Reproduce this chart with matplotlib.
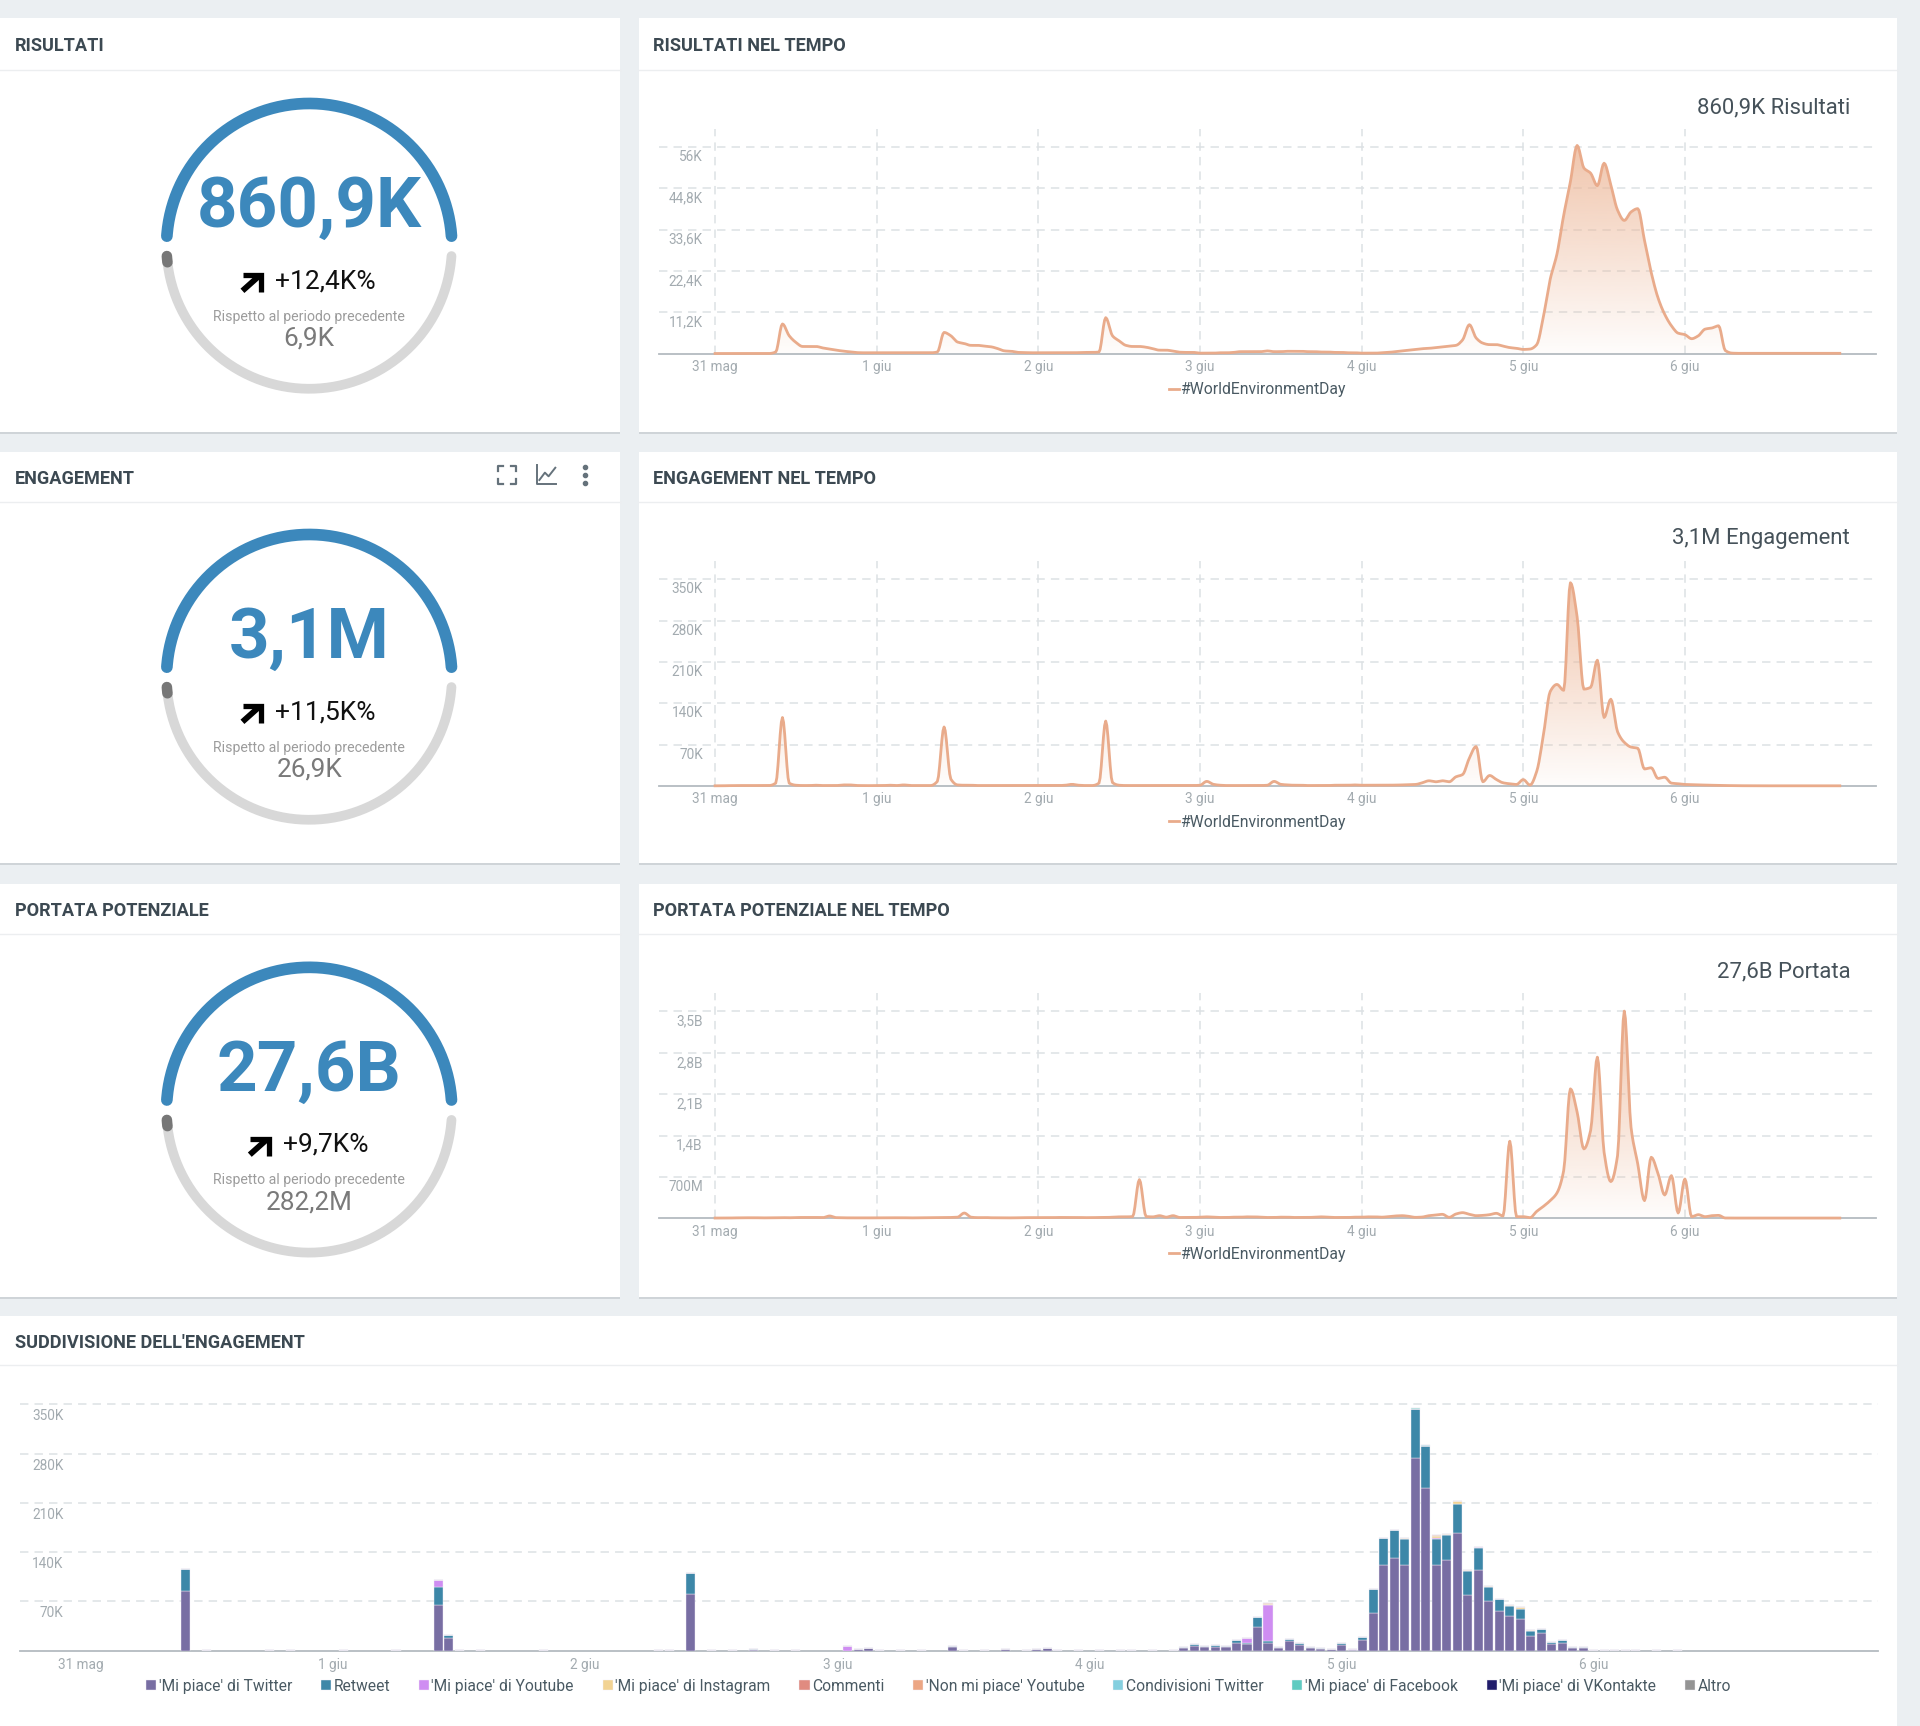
import numpy as np
import matplotlib
matplotlib.use("Agg")
import matplotlib.pyplot as plt
from matplotlib.patches import Rectangle, Polygon
from matplotlib.transforms import ScaledTranslation

plt.rcParams['font.family'] = ['Roboto', 'DejaVu Sans']

# ---------- data ----------
results_k = [
 0.1,0.1,0.1,0.1,0.1,0.1,0.1,0.1,0.1,0.5,8.1,4.9,3.1,2.0,2.0,2.0,1.6,1.3,1.0,0.75,0.55,0.35,0.3,0.3,
 0.3,0.3,0.3,0.3,0.3,0.3,0.3,0.3,0.3,0.5,5.8,4.9,3.2,2.8,2.3,2.3,2.1,1.9,1.4,0.8,0.7,0.4,0.35,0.3,
 0.3,0.3,0.3,0.3,0.3,0.3,0.35,0.4,0.4,0.5,9.8,4.9,3.5,2.3,2.0,2.0,1.8,1.4,1.0,1.0,0.75,0.45,0.4,0.4,
 0.2,0.2,0.2,0.3,0.3,0.4,0.6,0.6,0.6,0.6,0.8,0.6,0.6,0.7,0.7,0.7,0.6,0.6,0.5,0.5,0.4,0.4,0.3,0.3,
 0.2,0.2,0.2,0.3,0.4,0.6,0.8,1.0,1.2,1.4,1.5,1.7,1.9,2.1,2.3,3.8,7.9,4.3,2.9,2.5,2.5,2.1,1.7,1.5,
 1.2,1.3,2.5,10.2,20.2,27.0,37.5,46.6,56.4,50.3,48.9,45.5,51.6,45.7,38.9,36.1,38.4,39.3,30.7,22.0,15.2,10.7,7.6,5.6,
 5.2,4.1,4.9,6.7,7.0,7.6,0.9,0.2,0.15,0.15,0.15,0.15,0.15,0.15,0.15,0.15,0.15,0.15,0.15,0.15,0.15,0.15,0.15,0.15]

engagement_k = [
 0.5,0.5,0.8,0.8,1,1,1,1,1,5,116,5,1.5,1,1,1.5,1,1,1,2,2,1,1,0.8,
 1,1,1.5,1,2,1,1,1,1,8,100,12,2,1.5,1.5,1,1,1,1,1,1,1,1,1,
 1,1,1,1,1.5,3,1.5,1,1,5,110,6,1.5,1,1,1,1,1,1,1,1,1,1,1,
 1.5,8,3,1.5,1,1,1,1,1,1,1.5,8,3,2,1.5,1.5,1,1,1,1,1.5,1.5,1.5,2,
 1.5,1.5,1.5,1.5,1.5,1.8,2,2.4,2.8,5.6,9,7.3,9,7.3,15.7,19.6,47.6,67,7.3,18,11.2,5.6,3.9,2.8,
 11,1.7,25,87,160,172,162,344,286,164,167,213,116,147,92,74,66,64,29,31,13,15,5,4,
 2.8,2.5,2,1.8,1.5,1.2,1,0.8,0.7,0.6,0.6,0.5,0.5,0.5,0.5,0.5,0.5,0.5,0.5,0.5,0.5,0.5,0.5,0.5]

reach_m = [
 5,5,5,8,8,10,10,8,8,10,12,10,14,15,16,15,12,40,12,10,8,8,10,8,
 8,8,8,10,10,8,8,10,10,10,12,15,20,90,20,12,15,10,10,10,8,10,12,12,
 12,12,12,15,15,15,15,12,12,15,15,20,25,25,30,655,30,25,45,20,45,15,15,15,
 20,25,20,15,15,20,20,25,25,20,15,15,20,20,15,15,15,20,25,20,15,15,15,20,
 20,25,25,20,30,40,45,34,17,22,45,56,68,17,73,96,68,45,50,62,85,40,1304,28,
 28,11,118,203,300,429,807,2190,1795,1174,1485,2726,1118,621,1061,3505,1541,920,299,1033,762,395,723,90,
 666,28,62,28,45,50,6,5,5,5,5,5,5,5,5,5,5,5,5,5,5,5,5,5]

days_lines = ['31 mag', '1 giu', '2 giu', '3 giu', '4 giu', '5 giu', '6 giu']
ticks_results = [('11,2K',11.2),('22,4K',22.4),('33,6K',33.6),('44,8K',44.8),('56K',56)]
ticks_engage = [('70K',70),('140K',140),('210K',210),('280K',280),('350K',350)]
ticks_reach = [('700M',700),('1,4B',1400),('2,1B',2100),('2,8B',2800),('3,5B',3500)]

bar_hours = [10,12,18,20,25,30,34,35,36,38,44,55,56,58,60,62,64,66,68,73,74,75,76,78,80,83,84,86,88,90,91,92,93,95,97,99,100,102,104,
             105,106,107,108,109,110,111,112,113,114,115,116,117,118,119,120,121,122,123,124,125,126,127,128,129,130,131,132,
             133,134,135,136,137,138,139,140,141,142,143,144,145,146,147,148,150,152]
tw_likes = [84.5,.5,1,.4,.3,.5,65,18,1,.8,.5,.4,1,80.6,1,1,1.2,1,.5,0,2,3,.5,.5,.5,5,1,.5,2.2,.8,1.7,3,1.2,.4,.5,.7,.8,.8,1,
            3.5,6.5,4.5,5.5,5,11,9,34,11,4,14,8,4,2.5,2,8,1,14.8,53,122,132,122,274,231,122,129.5,167.5,78.5,
            114,70,56.6,48.5,44.7,21,24.7,9.5,11.4,4.3,3.5,1,.8,.8,.8,.6,.4,.3]
retweets = [32,.2,.4,.2,.1,.2,25,4.3,.4,.3,.2,.1,.4,30,.4,.4,.5,.4,.2,0,.5,1,.2,.1,.2,1,.4,.2,.4,.2,.3,.6,.3,.1,.1,.2,.2,.2,.2,
            1.5,2.5,1.5,3,2,3.8,2.4,13.3,2.4,1.2,3,3,1,.7,.6,2.5,.3,4.8,35,38.5,39.5,36.6,69.5,60.5,36,35,40.5,34,
            32,20.5,17,15,14.8,7,5.7,3,3,1.2,1,.3,.2,.2,.2,.2,.1,.1]
yt_likes = {34: 11, 73: 6, 111: 6.7, 113: 52, 121: 1.5, 129: 1.5, 133: 1}
ig_likes = {113: .5, 126: 1.5, 129: 4, 130: 1.5, 131: 4, 132: 2, 134: 1, 136: 2, 137: 3, 138: 1.2, 146: .5}
comments = {113: 1.0, 127: 0.4, 131: 0.3}
dislikes = {113: 0.6, 129: 0.3}
tw_shares = {127: 0.2, 128: 0.2}
fb_likes = {127: 0.2, 131: 0.2}
vk_likes = {}
others = {127: 0.2}

series_names = ["'Mi piace' di Twitter", 'Retweet', "'Mi piace' di Youtube", "'Mi piace' di Instagram", 'Commenti',
                "'Non mi piace' Youtube", 'Condivisioni Twitter', "'Mi piace' di Facebook",
                "'Mi piace' di VKontakte", 'Altro']
series_colors = ['#786ea3', '#3d87a8', '#cf8df2', '#f2d393', '#e08b80', '#eca684', '#84cfdf', '#5fcbc1', '#211c6b', '#949494']

# ---------- layout (coordinates of the 1568-wide screen grid) ----------
W, H = 1568.0, 1409.6
fig = plt.figure(figsize=(19.2, 17.26), dpi=100, facecolor='#ebeff2')
bg = fig.add_axes([0, 0, 1, 1], zorder=0)
bg.set_xlim(0, W); bg.set_ylim(H, 0); bg.axis('off')

TXT = '#3c4952'
TICK = '#a3abb0'
GRID = '#dde1e4'
LINE = '#e9ab8b'

def panel(x0, y0, x1, y1, hline, title):
    bg.add_patch(Rectangle((x0, y0+1.5), x1-x0, y1-y0, fc='#cfd4d8', ec='none', zorder=1))
    bg.add_patch(Rectangle((x0, y0), x1-x0, y1-y0, fc='white', ec='none', zorder=2))
    bg.plot([x0, x1], [hline, hline], color='#eceef0', lw=1, zorder=3)
    tx = x0 + 12 if x0 == 0 else x0 + 11.5
    bg.text(tx, (y0+hline)/2+1.8, title, fontsize=13.1, fontweight='bold', color=TXT, va='center', ha='left', zorder=4)

panel(0, 15, 506, 353, 57, 'RISULTATI')
panel(522, 15, 1549, 353, 57, 'RISULTATI NEL TEMPO')
panel(0, 369, 506, 705, 410, 'ENGAGEMENT')
panel(522, 369, 1549, 705, 410, 'ENGAGEMENT NEL TEMPO')
panel(0, 722, 506, 1059, 763, 'PORTATA POTENZIALE')
panel(522, 722, 1549, 1059, 763, 'PORTATA POTENZIALE NEL TEMPO')
panel(0, 1075, 1549, H+5, 1115, "SUDDIVISIONE DELL'ENGAGEMENT")

def gauge(cy, value, delta, prev, arrow_x, delta_x):
    cx, R = 252.5, 116.5
    a = np.radians(np.linspace(4, 176, 200))
    bg.plot(cx+R*np.cos(a), cy-R*np.sin(a), color='#3c88bc', lw=8.4, solid_capstyle='round', zorder=4)
    a = np.radians(np.linspace(184, 356, 200))
    bg.plot(cx+R*np.cos(a), cy-R*np.sin(a), color='#d8d8d8', lw=7.0, solid_capstyle='round', zorder=4)
    a = np.radians(np.linspace(184, 186.5, 6))
    bg.plot(cx+R*np.cos(a), cy-R*np.sin(a), color='#777777', lw=7.6, solid_capstyle='round', zorder=5)
    bg.text(cx, cy-31.5, value, fontsize=51, fontweight='bold', color='#3c88bc', ha='center', va='center', zorder=6)
    bg.text(delta_x, cy+28.5, delta, fontsize=19, color='#111111', ha='center', va='center', zorder=6)
    ax0, ay0 = arrow_x, cy+29.5
    bg.plot([ax0-7.5, ax0+7.5, ax0+7.5], [ay0-6, ay0-6, ay0+8], color='black', lw=3.8, solid_joinstyle='miter', solid_capstyle='butt', zorder=6)
    bg.plot([ax0-8, ax0+6], [ay0+7, ay0-5.5], color='black', lw=4.2, solid_capstyle='butt', zorder=6)
    bg.text(cx, cy+57.5, 'Rispetto al periodo precedente', fontsize=10.2, color='#9c9c9c', ha='center', va='center', zorder=6)
    bg.text(cx, cy+75.5, prev, fontsize=18.8, color='#7a7a7a', ha='center', va='center', zorder=6)

gauge(201, '860,9K', '+12,4K%', '6,9K', 206, 266)
gauge(553, '3,1M', '+11,5K%', '26,9K', 206, 266)
gauge(906.5, '27,6B', '+9,7K%', '282,2M', 212, 266)

for yy, t in [(88, '860,9K Risultati'), (440, '3,1M Engagement'), (793.5, '27,6B Portata')]:
    bg.text(1511, yy, t, fontsize=15.9, color='#46525a', ha='right', va='center', zorder=6)

# header icons
ic = '#65727b'
cxi, cyi = 414, 388
for sx, sy in [(-1, -1), (1, -1), (-1, 1), (1, 1)]:
    bg.plot([cxi+sx*7.5, cxi+sx*7.5, cxi+sx*3], [cyi+sy*3, cyi+sy*7.5, cyi+sy*7.5], color=ic, lw=1.6, zorder=6)
bg.plot([438.5, 438.5, 454], [380, 395.5, 395.5], color=ic, lw=1.4, zorder=6)
bg.plot([440.5, 445, 448, 453.5], [392, 386, 389, 382], color=ic, lw=1.4, zorder=6)
bg.plot([478, 478, 478], [381.5, 388, 394.5], ls='none', marker='o', ms=3.0, color=ic, zorder=6)

def new_axes(x0, x1, ytop, ybase, zorder=5):
    return fig.add_axes([x0/W, 1-ybase/H, (x1-x0)/W, (ybase-ytop)/H], zorder=zorder, facecolor='none')

def style(ax, ticks, vgrid):
    ax.spines[['top', 'left', 'right']].set_visible(False)
    ax.spines['bottom'].set_color('#b4bbc0'); ax.spines['bottom'].set_linewidth(1.3)
    ax.set_yticks([v for _, v in ticks]); ax.set_yticklabels([n for n, _ in ticks])
    ax.grid(axis='y', color=GRID, lw=1.1, ls=(0, (5.5, 4)))
    if vgrid:
        ax.grid(axis='x', color=GRID, lw=1.1, ls=(0, (5.5, 4)))
    ax.set_axisbelow(True)
    ax.tick_params(axis='both', length=0, labelsize=9.8, labelcolor=TICK)

def spline_curve(x, y, per=6):
    """Rounded drawing of the hourly readings (monotone cubic between readings, as the source's spline)."""
    d = np.diff(y) / np.diff(x)
    m = np.r_[d[0], np.where(d[:-1]*d[1:] <= 0, 0, 2*d[:-1]*d[1:]/(d[:-1]+d[1:]+1e-12)), d[-1]]
    xs, ys = [], []
    for i in range(len(x)-1):
        t = np.linspace(0, 1, per, endpoint=False)
        h00 = 2*t**3-3*t**2+1; h10 = t**3-2*t**2+t; h01 = -2*t**3+3*t**2; h11 = t**3-t**2
        xs.append(x[i]+t)
        ys.append(h00*y[i]+h10*m[i]+h01*y[i+1]+h11*m[i+1])
    return np.r_[np.concatenate(xs), x[-1]], np.r_[np.concatenate(ys), y[-1]]

def line_chart(values, ticks, ybase):
    x0, x1 = 538.0, 1532.0
    day0, per_hour = 584.0, 5.5
    px_per_unit = 169.0 / ticks[-1][1]
    top = ybase - 184
    ax = new_axes(x0, x1, top, ybase)
    y = np.array(values, float)
    x = np.arange(len(y), dtype=float)
    xc, yc = spline_curve(x, y)
    ax.set_xlim((x0-day0)/per_hour, (x1-day0)/per_hour)
    ax.set_ylim(0, 184/px_per_unit)
    style(ax, ticks, True)
    ax.set_xticks(np.arange(len(days_lines))*24); ax.set_xticklabels(days_lines)
    ax.tick_params(axis='x', pad=4.5)
    ax.tick_params(axis='y', pad=-36*1.2245*0.72)
    off = ScaledTranslation(0, -7*1.2245/100, fig.dpi_scale_trans)
    for lab in ax.get_yticklabels():
        lab.set_transform(lab.get_transform()+off)
        lab.set_zorder(6)
    rgba = np.zeros((256, 1, 4))
    rgba[..., :3] = matplotlib.colors.to_rgb('#edb798')
    rgba[..., 3] = np.linspace(0.8, 0.03, 256)[:, None]
    im = ax.imshow(rgba, extent=(0, len(y)-1, 0, y.max()), aspect='auto', origin='upper', zorder=1.5, interpolation='bilinear')
    poly = Polygon(np.column_stack([np.r_[xc[0], xc, xc[-1]], np.r_[0, yc, 0]]), closed=True, transform=ax.transData, fc='none', ec='none')
    ax.add_patch(poly)
    im.set_clip_path(poly)
    ln, = ax.plot(xc, yc, color=LINE, lw=2.0, solid_joinstyle='round', label='#WorldEnvironmentDay', zorder=3, clip_on=False)
    ax.set_xlim((x0-day0)/per_hour, (x1-day0)/per_hour)
    ax.set_ylim(0, 184/px_per_unit)
    leg = fig.legend(handles=[ln], loc='center', bbox_to_anchor=(1027/W, 1-(ybase+29.5)/H), frameon=False, fontsize=11.3,
                     handlelength=0.62, handletextpad=0.12, labelcolor='#4a5a63')
    leg.set_zorder(7)
    return ax

line_chart(results_k, ticks_results, 289)
line_chart(engagement_k, ticks_engage, 642)
line_chart(reach_m, ticks_reach, 995)

# stacked bars
bx0, bx1, by_top, by_base = 16.0, 1534.0, 1140.0, 1348.0
bday0, bper = 66.0, 8.58
ax = new_axes(bx0, bx1, by_top, by_base)
ax.set_xlim((bx0-bday0)/bper, (bx1-bday0)/bper)
ax.set_ylim(0, (by_base-by_top)/(201/350))
style(ax, ticks_engage, False)
ax.set_xticks(np.arange(len(days_lines))*24); ax.set_xticklabels(days_lines)
ax.tick_params(axis='x', pad=5.5)
ax.tick_params(axis='y', pad=-36*1.2245*0.72)
off = ScaledTranslation(0, -8.5*1.2245/100, fig.dpi_scale_trans)
for lab in ax.get_yticklabels():
    lab.set_transform(lab.get_transform()+off)

def sparse(d):
    return [d.get(h, 0) for h in bar_hours]

n = len(bar_hours)
stack = [tw_likes, retweets, sparse(yt_likes), sparse(ig_likes), sparse(comments), sparse(dislikes),
         sparse(tw_shares), sparse(fb_likes), sparse(vk_likes), sparse(others)]
bottom = np.zeros(n)
handles = []
for vals, name, col in zip(stack, series_names, series_colors):
    v = np.array(vals, float)
    b = ax.bar(bar_hours, v, width=0.86, bottom=bottom, color=col, label=name, edgecolor='#f2f0f6', linewidth=0.3, zorder=3)
    handles.append(b)
    bottom += v
leg = fig.legend(handles=handles, loc='center', bbox_to_anchor=(766.5/W, 1-1377/H), ncol=10, frameon=False, fontsize=11.25,
                 handlelength=0.65, handleheight=0.65, handletextpad=0.15, columnspacing=1.85, labelcolor='#4a5a63')
leg.set_zorder(7)

fig.savefig('out.png', dpi=100, facecolor=fig.get_facecolor())
